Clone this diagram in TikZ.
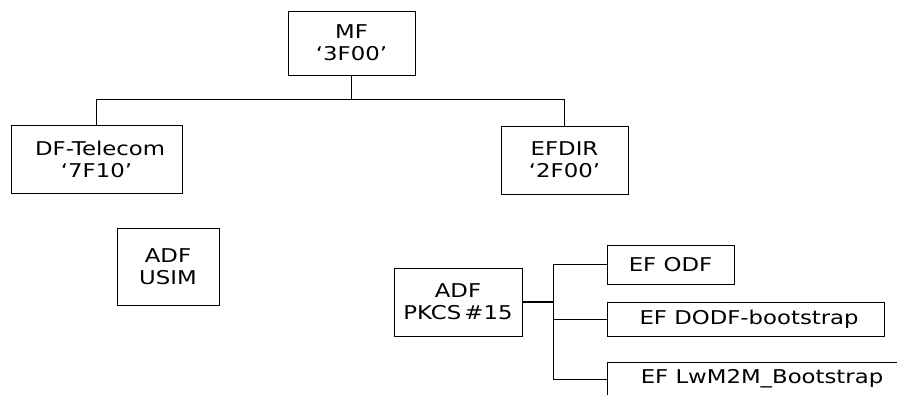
\documentclass[tikz,border=0pt]{standalone}
\usepackage{fontspec}
\setmainfont{DejaVu Sans}[FakeStretch=1.2]
\usetikzlibrary{positioning}

\begin{document}
\begin{tikzpicture}[x=1pt,y=-1pt,box/.style={draw,line width=1pt,inner sep=0pt,align=center,font=\fontsize{19}{22}\selectfont},rel/.style={line width=1pt},relthick/.style={line width=2pt}]
\useasboundingbox (0,0) rectangle (897,394);
\clip (0,0) rectangle (897,394);
\node[box,minimum width=127,minimum height=64](mf) at (351.5,43){MF\\‘3F00’};
\node[box,minimum width=171,minimum height=68](dftel) at (96.5,159){\ DF-Telecom\\‘7F10’};
\node[box,minimum width=127,minimum height=68](efdir) at (564.5,160){EFDIR\\‘2F00’};
\node[box,minimum width=102,minimum height=77](usim) at (168,266.5){ADF\\USIM};
\node[box,minimum width=128,minimum height=68](pkcs) at (458,302){ADF\\PKCS\,\#15};
\node[box,minimum width=127,minimum height=39](efodf) at (670.5,264.5){EF ODF};
\node[box,minimum width=277,minimum height=34](dodf) at (745.5,319){\ EF DODF-bootstrap};
\node[box,minimum width=310,minimum height=34](lwm2m) at (762,379){EF LwM2M\_Bootstrap};
% root to first level
\draw[rel](mf.south)--++(0,24)coordinate(bus);
\draw[rel](dftel.north)--(dftel.north|-bus)--(efdir.north|-bus)--(efdir.north);
% PKCS files
\draw[relthick](pkcs.east)--++(31,0)coordinate(hub);
\draw[rel](efodf.west)--(efodf.west-|hub)--(lwm2m.west-|hub)--(lwm2m.west);
\draw[rel](dodf.west)--(dodf.west-|hub);
\end{tikzpicture}
\end{document}
